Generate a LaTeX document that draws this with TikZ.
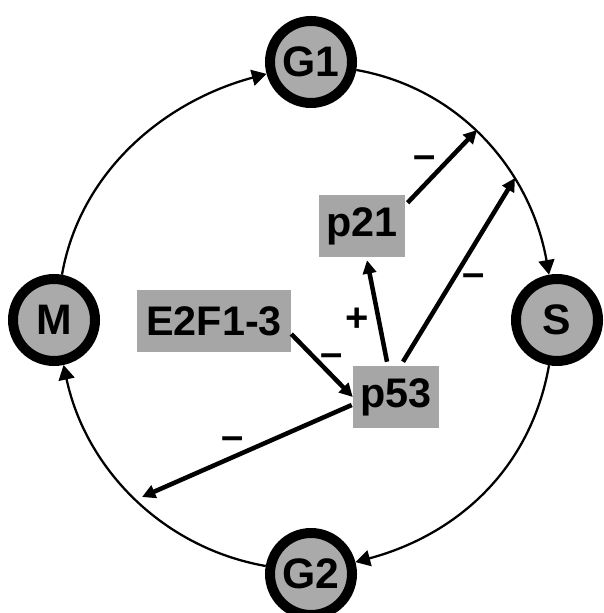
\documentclass[tikz,border=0pt]{standalone}
\usepackage{fontspec}
\setmainfont{Liberation Sans}
\usetikzlibrary{arrows.meta,calc}
\definecolor{boxgray}{RGB}{166,166,166}
\definecolor{phasegray}{RGB}{170,170,170}
\tikzset{
  phase/.style={circle, draw=black, line width=7.5pt, fill=phasegray, minimum size=61.5pt, inner sep=0pt, font=\fontsize{32}{34}\selectfont\bfseries},
  gene/.style={rectangle, fill=boxgray, minimum height=46.5pt, inner sep=0pt, font=\fontsize{31}{33}\selectfont\bfseries},
  ring/.style={line width=1.7pt, -{Triangle[length=11pt,width=12pt]}},
  reg/.style={line width=3.4pt, -{Triangle[length=10pt,width=10pt]}},
  sign/.style={inner sep=0pt, font=\fontsize{30}{32}\selectfont\bfseries}
}
\begin{document}
\begin{tikzpicture}[x=0.75pt,y=0.75pt]
\useasboundingbox (0,0) rectangle (603,613);
\node[phase] (G1) at (311,551) {G1};
\node[phase] (S) at (557,293) {S};
\node[phase] (G2) at (311,39) {G2};
\node[phase] (M) at (54,293) {M};
\node[gene, minimum width=65pt] (p21) at (362,387) {p21};
\node[gene, minimum width=115.5pt] (e2f) at (214,292) {E2F1-3};
\node[gene, minimum width=64.5pt] (p53) at (396,216) {p53};
\coordinate (h1) at (477,483);
\coordinate (h2) at (515,435);
\coordinate (h3) at (142,116);
\draw[ring] (G1) to[out=-10,in=100,distance=79pt] (S);
\draw[ring] (S) to[out=-100,in=15,distance=79pt] (G2);
\draw[ring] (G2) to[out=170,in=-78,distance=79pt] (M);
\draw[ring] (M) to[out=80,in=-165,distance=79pt] (G1);
\draw[reg] ($(e2f.east)+(0,-13)$) -- (p53.west);
\draw[reg] ($(p53.north)+(-9,4)$) -- ($(p21.south)+(5,-3)$);
\draw[reg] ($(p53.north)+(7,4)$) -- (h2);
\draw[reg] ($(p21.north east)+(2,-8)$) -- (h1);
\draw[reg] ($(p53.west)+(-1,-8)$) -- (h3);
\node[sign] (m1) at (332,253) {–};
\node[sign] (m2) at (425,451) {–};
\node[sign] (m3) at (474,333) {–};
\node[sign] (m4) at (233,170) {–};
\node[sign] (pl) at (357,293) {+};
\end{tikzpicture}
\end{document}
